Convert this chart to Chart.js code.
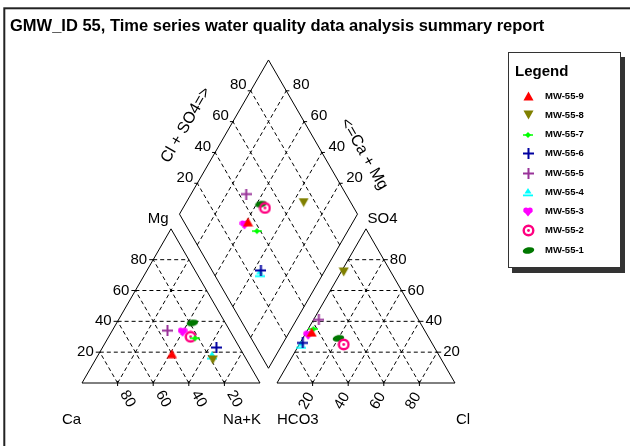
<!DOCTYPE html>
<html><head><meta charset="utf-8">
<script src="https://cdn.jsdelivr.net/npm/chart.js@4.4.0/dist/chart.umd.min.js"></script>
<style>html,body{margin:0;padding:0;background:#fff;overflow:hidden}canvas{display:block}</style>
</head><body>
<canvas id="c" width="630" height="446"></canvas>
<script>
// ---------- DATA ----------
const titleText = "GMW_ID 55, Time series water quality data analysis summary report";
const wells = ["MW-55-9","MW-55-8","MW-55-7","MW-55-6","MW-55-5","MW-55-4","MW-55-3","MW-55-2","MW-55-1"];
// cations, % of meq (Na+K = remainder)
const caPct  = [40, 19, 22, 13, 35, 18, 27, 24, 18.5];
const mgPct  = [19, 15, 29, 23, 34, 18, 33, 30, 39];
// anions, % of meq (HCO3 = remainder)
const clPct  = [3, 1.5, 3, 1.5, 3, 1, 2, 25, 20];
const so4Pct = [33, 72, 35, 26, 41, 25, 31, 25, 29];
const tickValues = [20, 40, 60, 80];

// ---------- GEOMETRY (Piper units, triangle side = 100) ----------
const SQ = Math.sqrt(3) / 2;
const GAP = 9.55;
const PX = 1.78;          // pixels per unit
const OX = 82, OY = 383;  // pixel of Ca corner
const CW = 630, CH = 446;

function catXY(ca, mg) { const na = 100 - ca - mg; return { x: na + mg / 2, y: mg * SQ }; }
function anXY(cl, so4) { return { x: 100 + GAP + cl + so4 / 2, y: so4 * SQ }; }
function diaXY(ca, mg, cl, so4) {
  const a = (ca + mg) / 100, b = (cl + so4) / 100;
  return { x: 100 + GAP / 2 + 50 * (b - a), y: GAP * SQ + 100 * SQ * (a + b) };
}

// ---------- MARKERS ----------
function mk(w, h, draw) { const c = document.createElement('canvas'); c.width = w; c.height = h; const g = c.getContext('2d'); draw(g, w, h); return c; }
function triUp(col) { return mk(11, 10, g => { g.fillStyle = col; g.beginPath(); g.moveTo(5.5, 0.5); g.lineTo(10.5, 9.5); g.lineTo(0.5, 9.5); g.closePath(); g.fill(); }); }
function triDown(col) { return mk(11, 10, g => { g.fillStyle = col; g.beginPath(); g.moveTo(0.5, 0.5); g.lineTo(10.5, 0.5); g.lineTo(5.5, 9.5); g.closePath(); g.fill(); }); }
function star(col) { return mk(10, 10, g => { g.fillStyle = col; g.strokeStyle = col; g.lineWidth = 1.5; g.beginPath(); g.moveTo(0, 5); g.lineTo(10, 5); g.stroke(); g.beginPath(); g.moveTo(5, 2); g.lineTo(8, 5); g.lineTo(5, 8); g.lineTo(2, 5); g.closePath(); g.fill(); }); }
function cross(col) { return mk(11, 11, g => { g.strokeStyle = col; g.lineWidth = 2; g.beginPath(); g.moveTo(0, 5.5); g.lineTo(11, 5.5); g.moveTo(5.5, 0); g.lineTo(5.5, 11); g.stroke(); }); }
function cyanTri(col) { return mk(10, 10, g => { g.fillStyle = col; g.beginPath(); g.moveTo(5, 1); g.lineTo(8.5, 6.5); g.lineTo(1.5, 6.5); g.closePath(); g.fill(); g.fillRect(0, 7.5, 10, 1.8); }); }
function heart(col) { return mk(10, 10, g => { g.fillStyle = col; g.beginPath(); g.arc(3, 3.2, 2.7, 0, Math.PI * 2); g.arc(7, 3.2, 2.7, 0, Math.PI * 2); g.fill(); g.beginPath(); g.moveTo(0.4, 4); g.lineTo(9.6, 4); g.lineTo(5, 9.5); g.closePath(); g.fill(); }); }
function ring(col) { return mk(13, 13, g => { g.strokeStyle = col; g.lineWidth = 2.4; g.beginPath(); g.arc(6.5, 6.5, 4.8, 0, Math.PI * 2); g.stroke(); g.fillStyle = col; g.beginPath(); g.arc(6.5, 6.5, 1.4, 0, Math.PI * 2); g.fill(); }); }
function leaf(col) { return mk(13, 9, g => { g.fillStyle = col; g.beginPath(); g.ellipse(6.5, 4.5, 5.8, 3.2, -0.18, 0, Math.PI * 2); g.fill(); }); }

const markerStyles = [triUp('#FF0000'), triDown('#808000'), star('#00FF00'), cross('#0000A0'), cross('#993399'),
  cyanTri('#00FFFF'), heart('#FF00FF'), ring('#FF0080'), leaf('#007700')];

const datasets = wells.map((w, i) => ({
  label: w,
  data: [catXY(caPct[i], mgPct[i]), anXY(clPct[i], so4Pct[i]), diaXY(caPct[i], mgPct[i], clPct[i], so4Pct[i])],
  pointStyle: markerStyles[i],
  pointRadius: 5,
  showLine: false
}));

const FONT = '"Liberation Sans", Arial, sans-serif';

const piperFrame = {
  id: 'piperFrame',
  beforeDatasetsDraw(chart) {
    const { ctx } = chart; const xs = chart.scales.x, ys = chart.scales.y;
    const P = pt => ({ x: xs.getPixelForValue(pt.x), y: ys.getPixelForValue(pt.y) });
    const line = (p, q) => { const a = P(p), b = P(q); ctx.beginPath(); ctx.moveTo(a.x, a.y); ctx.lineTo(b.x, b.y); ctx.stroke(); };
    ctx.save();
    ctx.strokeStyle = '#000'; ctx.lineWidth = 1;
    // dashed grid
    ctx.setLineDash([4, 3]);
    tickValues.forEach(k => {
      line(catXY(100 - k, k), catXY(0, k));
      line(catXY(k, 0), catXY(k, 100 - k));
      line(catXY(100 - k, 0), catXY(0, 100 - k));
      line(anXY(0, k), anXY(100 - k, k));
      line(anXY(k, 0), anXY(k, 100 - k));
      line(anXY(100 - k, 0), anXY(0, 100 - k));
      line(diaXY(k, 0, 0, 0), diaXY(k, 0, 100, 0));
      line(diaXY(0, 0, k, 0), diaXY(100, 0, k, 0));
    });
    ctx.setLineDash([]);
    // outlines
    const poly = pts => { ctx.beginPath(); pts.forEach((p, i) => { const q = P(p); i ? ctx.lineTo(q.x, q.y) : ctx.moveTo(q.x, q.y); }); ctx.closePath(); ctx.stroke(); };
    poly([catXY(100, 0), catXY(0, 0), catXY(0, 100)]);
    poly([anXY(0, 0), anXY(100, 0), anXY(0, 100)]);
    poly([diaXY(0, 0, 0, 0), diaXY(100, 0, 0, 0), diaXY(100, 0, 100, 0), diaXY(0, 0, 100, 0)]);
    // ticks
    tickValues.forEach(k => {
      let p = P(catXY(k, 0)); ctx.beginPath(); ctx.moveTo(p.x, p.y - 2); ctx.lineTo(p.x, p.y + 3); ctx.stroke();
      p = P(anXY(k, 0)); ctx.beginPath(); ctx.moveTo(p.x, p.y - 2); ctx.lineTo(p.x, p.y + 3); ctx.stroke();
      p = P(catXY(100 - k, k)); ctx.beginPath(); ctx.moveTo(p.x - 4, p.y); ctx.lineTo(p.x + 1, p.y); ctx.stroke();
      p = P(anXY(100 - k, k)); ctx.beginPath(); ctx.moveTo(p.x - 1, p.y); ctx.lineTo(p.x + 4, p.y); ctx.stroke();
      p = P(diaXY(100, 0, k, 0)); ctx.beginPath(); ctx.moveTo(p.x - 3, p.y); ctx.lineTo(p.x + 1, p.y); ctx.stroke();
      p = P(diaXY(k, 0, 100, 0)); ctx.beginPath(); ctx.moveTo(p.x - 1, p.y); ctx.lineTo(p.x + 3, p.y); ctx.stroke();
    });
    // tick labels
    ctx.fillStyle = '#000'; ctx.font = '15px ' + FONT;
    tickValues.forEach(k => {
      const s = String(k);
      let p = P(catXY(100 - k, k)); ctx.textAlign = 'right'; ctx.textBaseline = 'middle'; ctx.fillText(s, p.x - 6, p.y);
      p = P(anXY(100 - k, k)); ctx.textAlign = 'left'; ctx.fillText(s, p.x + 6, p.y);
      p = P(diaXY(100, 0, k, 0)); ctx.textAlign = 'right'; ctx.fillText(s, p.x - 4, p.y - 5.5);
      p = P(diaXY(k, 0, 100, 0)); ctx.textAlign = 'left'; ctx.fillText(s, p.x + 6.5, p.y - 5.5);
      ctx.textAlign = 'center';
      p = P(catXY(k, 0)); ctx.save(); ctx.translate(p.x + 10, p.y + 16); ctx.rotate(Math.PI / 3); ctx.fillText(s, 0, 0); ctx.restore();
      p = P(anXY(k, 0)); ctx.save(); ctx.translate(p.x - 6, p.y + 18); ctx.rotate(-Math.PI / 3); ctx.fillText(s, 0, 0); ctx.restore();
    });
    // corner labels
    ctx.textBaseline = 'alphabetic';
    let p = P(catXY(100, 0)); ctx.textAlign = 'left'; ctx.fillText('Ca', p.x - 20, p.y + 41);
    p = P(catXY(0, 0)); ctx.textAlign = 'right'; ctx.fillText('Na+K', p.x + 1, p.y + 41);
    p = P(anXY(0, 0)); ctx.textAlign = 'left'; ctx.fillText('HCO3', p.x, p.y + 41);
    p = P(anXY(100, 0)); ctx.textAlign = 'left'; ctx.fillText('Cl', p.x + 1, p.y + 41);
    p = P(diaXY(100, 0, 0, 0)); ctx.textAlign = 'right'; ctx.fillText('Mg', p.x - 11, p.y + 9);
    p = P(diaXY(0, 0, 100, 0)); ctx.textAlign = 'left'; ctx.fillText('SO4', p.x + 10, p.y + 9);
    // diamond axis titles
    ctx.font = '16px ' + FONT; ctx.textAlign = 'center'; ctx.textBaseline = 'middle';
    p = P(diaXY(100, 0, 50, 0)); ctx.save(); ctx.translate(p.x - 38, p.y - 12); ctx.rotate(-Math.PI / 3); ctx.fillText('Cl + SO4=>', 0, 0); ctx.restore();
    p = P(diaXY(50, 0, 100, 0)); ctx.save(); ctx.translate(p.x + 51, p.y + 17); ctx.rotate(Math.PI / 3); ctx.fillText('<=Ca + Mg', 0, 0); ctx.restore();
    ctx.restore();
  },
  afterDraw(chart) {
    const { ctx } = chart;
    ctx.save();
    // outer frame
    ctx.strokeStyle = '#222'; ctx.lineWidth = 2; ctx.strokeRect(4.3, 8.3, 800, 600);
    // title
    ctx.fillStyle = '#000'; ctx.font = 'bold 16.5px ' + FONT; ctx.textAlign = 'left'; ctx.textBaseline = 'alphabetic';
    ctx.fillText(titleText, 10, 31);
    // legend
    ctx.fillStyle = '#333'; ctx.fillRect(512, 57, 113, 216);
    ctx.fillStyle = '#fff'; ctx.fillRect(508, 52, 113, 216);
    ctx.strokeStyle = '#333'; ctx.lineWidth = 1; ctx.strokeRect(508.5, 52.5, 112, 215);
    ctx.fillStyle = '#000'; ctx.font = 'bold 15px ' + FONT; ctx.fillText('Legend', 515, 76);
    ctx.font = 'bold 9.5px ' + FONT; ctx.textBaseline = 'middle';
    chart.data.datasets.forEach((ds, i) => {
      const y = 96 + i * 19.25;
      const img = ds.pointStyle;
      ctx.drawImage(img, Math.round(528 - img.width / 2), Math.round(y - img.height / 2));
      ctx.fillStyle = '#000'; ctx.fillText(ds.label, 545, y);
    });
    ctx.restore();
  }
};

new Chart(document.getElementById('c'), {
  type: 'scatter',
  data: { datasets },
  options: {
    responsive: false, animation: false, events: [],
    layout: { padding: 0, autoPadding: false },
    plugins: { legend: { display: false }, tooltip: { enabled: false }, title: { display: false } },
    scales: {
      x: { type: 'linear', display: false, bounds: 'data', min: -OX / PX, max: (CW - OX) / PX },
      y: { type: 'linear', display: false, bounds: 'data', min: -(CH - OY) / PX, max: OY / PX }
    }
  },
  plugins: [piperFrame]
});
</script>
</body></html>
